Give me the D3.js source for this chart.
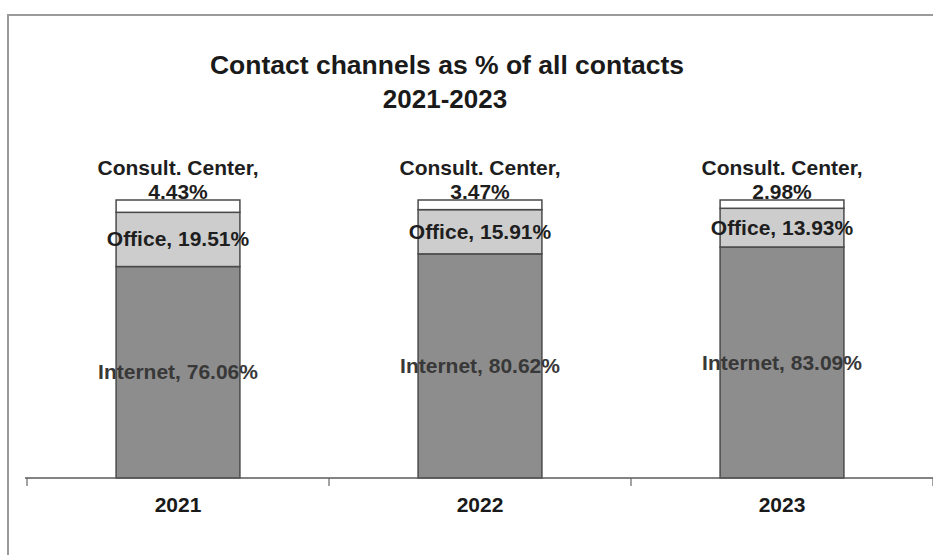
<!DOCTYPE html>
<html>
<head>
<meta charset="utf-8">
<script src="https://cdn.jsdelivr.net/npm/d3@7/dist/d3.min.js"></script>
<style>
  html, body { margin: 0; padding: 0; background: #fff; }
  svg { display: block; }
  text { font-family: "Liberation Sans", Arial, sans-serif; font-weight: bold; }
</style>
</head>
<body>
<svg id="chart" width="933" height="555"></svg>
<script>
// Contact channel shares per year (percent of all contacts)
const years = ["2021", "2022", "2023"];
const internet = [76.06, 80.62, 83.09];
const office = [19.51, 15.91, 13.93];
const consult = [4.43, 3.47, 2.98];
const channelNames = ["Internet", "Office", "Consult. Center"];
const titleLines = ["Contact channels as % of all contacts", "2021-2023"];

const W = 933, H = 555;
const svg = d3.select("#chart");

// outer frame (left and top edges)
svg.append("path")
  .attr("d", `M8,${H} L8,15 L${W},15`)
  .attr("fill", "none").attr("stroke", "#9a9a9a").attr("stroke-width", 2);

const x = d3.scaleBand().domain(years).range([27, 933]).padding(0);
const y = d3.scaleLinear().domain([0, 100]).range([478, 200]);
const barW = x.bandwidth() * 0.41;

const rows = years.map((yr, i) => ({
  year: yr,
  Internet: internet[i],
  Office: office[i],
  "Consult. Center": consult[i]
}));
const stacked = d3.stack().keys(channelNames)(rows);
const fills = { "Internet": "#8d8d8d", "Office": "#cdcdcd", "Consult. Center": "#ffffff" };

// title
svg.append("text").attr("x", 447).attr("y", 74).attr("text-anchor", "middle")
  .attr("font-size", 26.5).attr("fill", "#1a1a1a").text(titleLines[0]);
svg.append("text").attr("x", 445).attr("y", 108).attr("text-anchor", "middle")
  .attr("font-size", 26).attr("fill", "#1a1a1a").text(titleLines[1]);

// bars
const g = svg.append("g");
stacked.forEach(layer => {
  g.selectAll(null).data(layer).enter().append("rect")
    .attr("x", d => x(d.data.year) + (x.bandwidth() - barW) / 2)
    .attr("width", barW)
    .attr("y", d => y(d[1]))
    .attr("height", d => y(d[0]) - y(d[1]))
    .attr("fill", fills[layer.key])
    .attr("stroke", "#4a4a4a").attr("stroke-width", 1.5);
});

// x axis
const axis = svg.append("g").attr("transform", "translate(0,478)")
  .call(d3.axisBottom(x).tickSize(0).tickPadding(0).tickFormat(""));
axis.select(".domain").attr("stroke", "#5a5a5a").attr("stroke-width", 1.5)
  .attr("d", "M25,0H933");
// band boundary ticks
const edges = years.map(yr => x(yr)).concat([x(years[years.length - 1]) + x.bandwidth()]);
svg.selectAll(null).data(edges).enter().append("line")
  .attr("x1", d => d).attr("x2", d => d).attr("y1", 478).attr("y2", 486)
  .attr("stroke", "#666").attr("stroke-width", 1.2);

// year labels
svg.selectAll(null).data(years).enter().append("text")
  .attr("x", d => x(d) + x.bandwidth() / 2)
  .attr("y", 512).attr("text-anchor", "middle")
  .attr("font-size", 21).attr("fill", "#1a1a1a").text(d => d);

// data labels
const fmt = v => v.toFixed(2) + "%";
const [sInt, sOff, sCon] = stacked;
const labelSize = 21;
years.forEach((yr, i) => {
  const cx = x(yr) + x.bandwidth() / 2;
  // Internet, centred in its segment
  svg.append("text").attr("x", cx)
    .attr("y", (y(sInt[i][0]) + y(sInt[i][1])) / 2 + 7)
    .attr("text-anchor", "middle").attr("font-size", labelSize).attr("fill", "#383838")
    .text("Internet, " + fmt(internet[i]));
  // Office, centred in its segment
  svg.append("text").attr("x", cx)
    .attr("y", (y(sOff[i][0]) + y(sOff[i][1])) / 2 + 7)
    .attr("text-anchor", "middle").attr("font-size", labelSize).attr("fill", "#1e1e1e")
    .text("Office, " + fmt(office[i]));
  // Consult. Center, above the bar
  const top = y(sCon[i][1]);
  svg.append("text").attr("x", cx).attr("y", top - 25)
    .attr("text-anchor", "middle").attr("font-size", labelSize).attr("fill", "#1e1e1e")
    .text("Consult. Center,");
  svg.append("text").attr("x", cx).attr("y", top - 1)
    .attr("text-anchor", "middle").attr("font-size", labelSize).attr("fill", "#1e1e1e")
    .text(fmt(consult[i]));
});
</script>
</body>
</html>
